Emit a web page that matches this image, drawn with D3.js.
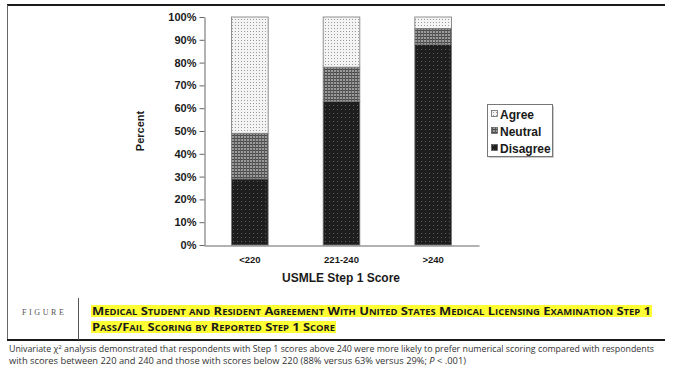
<!DOCTYPE html>
<html><head><meta charset="utf-8">
<script src="https://cdn.jsdelivr.net/npm/d3@7"></script>
<style>
html,body{margin:0;padding:0;background:#fff;}
svg{display:block;}
</style></head>
<body>
<script>
const categories = ["<220", "221-240", ">240"];
const seriesNames = ["Disagree", "Neutral", "Agree"];
const disagree = [29, 63, 88];
const neutral = [20, 15, 7];
const agree = [51, 22, 5];
const yTicks = [0, 10, 20, 30, 40, 50, 60, 70, 80, 90, 100];
const legendOrder = ["Agree", "Neutral", "Disagree"];

const W = 683, H = 377;
const svg = d3.select("body").append("svg").attr("width", W).attr("height", H);
const defs = svg.append("defs");

// patterns
const pA = defs.append("pattern").attr("id", "pAgree").attr("patternUnits", "userSpaceOnUse").attr("width", 3).attr("height", 3);
pA.append("rect").attr("width", 3).attr("height", 3).attr("fill", "#f4f4f4");
pA.append("rect").attr("x", 1).attr("y", 1).attr("width", 1).attr("height", 1).attr("fill", "#9a9a9a");

const pN = defs.append("pattern").attr("id", "pNeutral").attr("patternUnits", "userSpaceOnUse").attr("width", 3).attr("height", 3);
pN.append("rect").attr("width", 3).attr("height", 3).attr("fill", "#9a9a9a");
pN.append("rect").attr("x", 0).attr("y", 0).attr("width", 3).attr("height", 1).attr("fill", "#4a4a4a");
pN.append("rect").attr("x", 0).attr("y", 0).attr("width", 1).attr("height", 3).attr("fill", "#5a5a5a");

const pD = defs.append("pattern").attr("id", "pDisagree").attr("patternUnits", "userSpaceOnUse").attr("width", 4).attr("height", 4);
pD.append("rect").attr("width", 4).attr("height", 4).attr("fill", "#1e1e1e");
pD.append("rect").attr("x", 1).attr("y", 1).attr("width", 1).attr("height", 1).attr("fill", "#5a5a5a");

const fills = { Agree: "url(#pAgree)", Neutral: "url(#pNeutral)", Disagree: "url(#pDisagree)" };

// frame lines
svg.append("line").attr("x1", 7).attr("x2", 665).attr("y1", 5).attr("y2", 5).attr("stroke", "#1a1a1a").attr("stroke-width", 2);
svg.append("line").attr("x1", 7.5).attr("x2", 7.5).attr("y1", 5).attr("y2", 340).attr("stroke", "#666").attr("stroke-width", 1);
svg.append("line").attr("x1", 7).attr("x2", 665).attr("y1", 340).attr("y2", 340).attr("stroke", "#1a1a1a").attr("stroke-width", 2);
svg.append("line").attr("x1", 78.5).attr("x2", 78.5).attr("y1", 298).attr("y2", 340).attr("stroke", "#555").attr("stroke-width", 1);

// scales
const x = d3.scaleBand().domain(categories).range([204, 479]).paddingInner(0.6).paddingOuter(0.3);
const y = d3.scaleLinear().domain([0, 100]).range([245, 17]);

const rows = categories.map((c, i) => ({ cat: c, Disagree: disagree[i], Neutral: neutral[i], Agree: agree[i] }));
const stack = d3.stack().keys(seriesNames)(rows);

const g = svg.append("g");
stack.forEach(layer => {
  g.selectAll(null).data(layer).enter().append("rect")
    .attr("x", d => x(d.data.cat))
    .attr("width", x.bandwidth())
    .attr("y", d => y(d[1]))
    .attr("height", d => y(d[0]) - y(d[1]))
    .attr("fill", fills[layer.key])
    .attr("stroke", "#777").attr("stroke-width", 0.8);
});

// y axis
const yAxis = svg.append("g").attr("transform", "translate(204.5,0)")
  .call(d3.axisLeft(y).tickValues(yTicks).tickFormat(d => d + "%").tickSize(5).tickSizeOuter(0));
yAxis.select(".domain").attr("stroke", "#666");
yAxis.selectAll(".tick line").attr("stroke", "#666");
yAxis.selectAll("text").attr("x", -8).attr("font-family", "Liberation Sans, Arial, sans-serif")
  .attr("font-weight", "bold").attr("font-size", 11).attr("fill", "#1a1a1a");

// x axis
const xAxis = svg.append("g").attr("transform", "translate(0,245.5)")
  .call(d3.axisBottom(x).tickSize(0).tickSizeOuter(0));
xAxis.select(".domain").attr("stroke", "#666");
xAxis.selectAll("text").attr("dy", "0").attr("y", 17).attr("font-family", "Liberation Sans, Arial, sans-serif")
  .attr("font-weight", "bold").attr("font-size", 9.5).attr("fill", "#1a1a1a");

// axis titles
svg.append("text").attr("x", 341).attr("y", 282).attr("text-anchor", "middle")
  .attr("font-family", "Liberation Sans, Arial, sans-serif").attr("font-weight", "bold").attr("font-size", 12).attr("fill", "#1a1a1a")
  .text("USMLE Step 1 Score");
svg.append("text").attr("transform", "translate(144,131) rotate(-90)").attr("text-anchor", "middle")
  .attr("font-family", "Liberation Sans, Arial, sans-serif").attr("font-weight", "bold").attr("font-size", 11).attr("fill", "#1a1a1a")
  .text("Percent");

// legend
const lg = svg.append("g");
lg.append("rect").attr("x", 489).attr("y", 106).attr("width", 65).attr("height", 52).attr("fill", "#ccc");
lg.append("rect").attr("x", 487.5).attr("y", 104.5).attr("width", 65).attr("height", 52).attr("fill", "#fff").attr("stroke", "#777");
legendOrder.forEach((k, i) => {
  const yy = 114 + i * 17;
  lg.append("rect").attr("x", 491.5).attr("y", yy - 3.5).attr("width", 6).attr("height", 6)
    .attr("fill", fills[k]).attr("stroke", "#555").attr("stroke-width", 0.7);
  lg.append("text").attr("x", 500).attr("y", yy + 4.5)
    .attr("font-family", "Liberation Sans, Arial, sans-serif").attr("font-weight", "bold").attr("font-size", 12).attr("fill", "#1a1a1a")
    .text(k);
});

// figure label
svg.append("text").attr("x", 22).attr("y", 315).attr("font-family", "Liberation Serif, serif").attr("font-size", 8)
  .attr("letter-spacing", 2.6).attr("fill", "#555").text("FIGURE");

// title with highlight
const titleLines = [
  { t: "Medical Student and Resident Agreement With United States Medical Licensing Examination Step 1", y: 315, w: 559 },
  { t: "Pass/Fail Scoring by Reported Step 1 Score", y: 331, w: 243 }
];
titleLines.forEach(l => {
  svg.append("rect").attr("x", 91).attr("y", l.y - 10).attr("width", l.w + 2).attr("height", 12).attr("fill", "#ffff33");
  svg.append("text").attr("x", 92).attr("y", l.y).attr("font-family", "Open Sans, Lato, sans-serif").attr("font-weight", "bold")
    .attr("font-size", 11).attr("font-variant", "small-caps").attr("fill", "#1a1a1a")
    .attr("textLength", l.w).attr("lengthAdjust", "spacingAndGlyphs").text(l.t);
});

// caption
const cap1 = svg.append("text").attr("x", 9).attr("y", 352).attr("font-family", "Open Sans, sans-serif").attr("font-size", 8.6).attr("fill", "#333")
  .attr("textLength", 645).attr("lengthAdjust", "spacingAndGlyphs");
cap1.append("tspan").text("Univariate χ");
cap1.append("tspan").attr("font-size", 6).attr("dy", -3).text("2");
cap1.append("tspan").attr("dy", 3).text(" analysis demonstrated that respondents with Step 1 scores above 240 were more likely to prefer numerical scoring compared with respondents");
const cap2 = svg.append("text").attr("x", 9).attr("y", 364).attr("font-family", "Open Sans, sans-serif").attr("font-size", 8.6).attr("fill", "#333")
  .attr("textLength", 457).attr("lengthAdjust", "spacingAndGlyphs");
cap2.append("tspan").text("with scores between 220 and 240 and those with scores below 220 (88% versus 63% versus 29%; ");
cap2.append("tspan").attr("font-style", "italic").text("P");
cap2.append("tspan").text(" < .001)");
</script>
</body></html>
